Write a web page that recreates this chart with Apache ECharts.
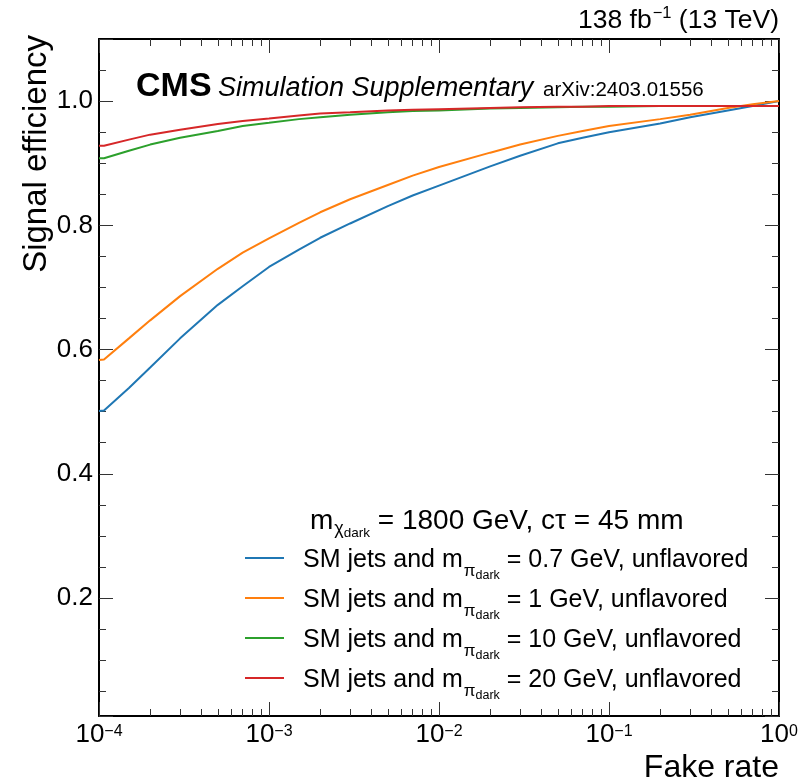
<!DOCTYPE html>
<html>
<head>
<meta charset="utf-8">
<script src="https://cdn.jsdelivr.net/npm/echarts@6/dist/echarts.min.js"></script>
<style>
  html, body { margin: 0; padding: 0; background: #fff; }
  #roc { width: 800px; height: 782px; }
</style>
</head>
<body>
<div id="roc"></div>
<script>
var FONT = "'Liberation Sans', Arial, sans-serif";

// fake rate (x), shared by the four curves
var fakeRate = [1e-4, 1.07e-4, 1.5e-4, 2e-4, 3e-4, 5e-4, 7e-4, 1e-3, 1.5e-3, 2e-3, 3e-3, 5e-3, 7e-3,
  1e-2, 2e-2, 3e-2, 5e-2, 7e-2, 0.1, 0.2, 0.3, 0.5, 0.7, 1];

// signal efficiency for each dark pion mass
var effPi07 = [0.501, 0.502, 0.538, 0.571, 0.618, 0.672, 0.702, 0.733, 0.761, 0.780, 0.803, 0.831, 0.848,
  0.864, 0.895, 0.912, 0.932, 0.941, 0.950, 0.964, 0.974, 0.985, 0.992, 1.000];
var effPi1 = [0.583, 0.584, 0.618, 0.647, 0.686, 0.730, 0.756, 0.779, 0.804, 0.821, 0.842, 0.865, 0.880,
  0.894, 0.917, 0.930, 0.944, 0.952, 0.960, 0.971, 0.978, 0.989, 0.995, 1.000];
var effPi10 = [0.908, 0.908, 0.920, 0.930, 0.941, 0.952, 0.960, 0.965, 0.971, 0.974, 0.978, 0.982, 0.984,
  0.985, 0.988, 0.989, 0.990, 0.991, 0.991, 0.992, 0.992, 0.992, 0.992, 0.992];
var effPi20 = [0.928, 0.928, 0.938, 0.946, 0.954, 0.963, 0.968, 0.972, 0.977, 0.980, 0.982, 0.985, 0.986,
  0.987, 0.989, 0.990, 0.991, 0.991, 0.992, 0.992, 0.992, 0.992, 0.992, 0.992];

var piMasses = ['0.7', '1', '10', '20'];
var lineColors = ['#1f77b4', '#ff7f0e', '#2ca02c', '#d62728'];
var effCurves = [effPi07, effPi1, effPi10, effPi20];

var seriesNames = piMasses.map(function (m) {
  return 'SM jets and m(pi dark) = ' + m + ' GeV, unflavored';
});

var rocChart = echarts.init(document.getElementById('roc'));

function pairs(xs, ys) {
  return xs.map(function (x, i) { return [x, ys[i]]; });
}

// rich styles for m_{pi_dark} style sub-subscripts
var legendRich = {
  f: { fontFamily: FONT, fontSize: 25, lineHeight: 28, verticalAlign: 'top', padding: [3.5, 0, 0, 14], color: '#000' },
  a: { fontFamily: FONT, fontSize: 25, lineHeight: 28, verticalAlign: 'top', padding: [3.5, 0, 0, 0], color: '#000' },
  p: { fontFamily: FONT, fontSize: 17, lineHeight: 17, verticalAlign: 'top', padding: [19, 0, 0, 1], color: '#000' },
  d: { fontFamily: FONT, fontSize: 12.5, lineHeight: 12, verticalAlign: 'top', padding: [25, 0, 0, 0], color: '#000' }
};

var xLabelRich = {
  b: { fontFamily: FONT, fontSize: 26, lineHeight: 26, verticalAlign: 'top', color: '#000' },
  e: { fontFamily: FONT, fontSize: 16, lineHeight: 16, verticalAlign: 'top', padding: [2, 0, 0, 0], color: '#000' }
};

function xAxisCfg(pos, showLabel) {
  return {
    type: 'log', logBase: 10, min: 1e-4, max: 1, position: pos, gridIndex: 0,
    axisLine: { onZero: false, lineStyle: { color: '#000', width: 2 } },
    axisTick: { inside: true, length: 14, lineStyle: { color: '#333' } },
    minorTick: { show: true, splitNumber: 9, length: 7, lineStyle: { color: '#333' } },
    splitLine: { show: false },
    axisLabel: {
      show: showLabel, margin: 6, interval: 0,
      formatter: function (v) {
        var e = Math.round(Math.log10(v));
        return '{b|10}{e|' + (e < 0 ? '\u2212' + (-e) : e) + '}';
      },
      rich: xLabelRich
    }
  };
}

function yAxisCfg(pos, showLabel) {
  return {
    type: 'value', min: 0.01, max: 1.1, splitNumber: 5, position: pos, gridIndex: 0,
    axisLine: { onZero: false, lineStyle: { color: '#000', width: 2 } },
    axisTick: { inside: true, length: 14, lineStyle: { color: '#333' } },
    minorTick: { show: true, splitNumber: 4, length: 7, lineStyle: { color: '#333' } },
    splitLine: { show: false },
    axisLabel: {
      show: showLabel, margin: 6, fontSize: 26, fontFamily: FONT, color: '#000',
      showMinLabel: false, showMaxLabel: false,
      formatter: function (v) { return v.toFixed(1); }
    }
  };
}

var option = {
  animation: false,
  backgroundColor: '#fff',
  textStyle: { fontFamily: FONT },
  grid: { left: 99, right: 21, top: 39, bottom: 66, outerBoundsMode: 'none' },
  xAxis: [xAxisCfg('bottom', true), xAxisCfg('top', false)],
  yAxis: [yAxisCfg('left', true), yAxisCfg('right', false)],
  legend: {
    orient: 'vertical', left: 245, top: 544, padding: 0, itemGap: 2,
    itemWidth: 39, itemHeight: 2, icon: 'rect', selectedMode: false,
    data: seriesNames,
    formatter: function (name) {
      var m = piMasses[seriesNames.indexOf(name)];
      return '{f|SM jets and m}{p|\u03c0}{d|dark}{a| = ' + m + ' GeV, unflavored}';
    },
    textStyle: { color: '#000', fontFamily: FONT, rich: legendRich }
  },
  series: effCurves.map(function (ys, i) {
    return {
      name: seriesNames[i],
      type: 'line',
      xAxisIndex: 0, yAxisIndex: 0,
      showSymbol: false, symbol: 'none',
      data: pairs(fakeRate, ys),
      lineStyle: { color: lineColors[i], width: 2 },
      itemStyle: { color: lineColors[i] },
      z: 2 + i
    };
  }),
  graphic: [
    {
      type: 'text', x: 779, y: 3,
      style: {
        text: '{a|138 fb}{s|\u22121}{a| (13 TeV)}', align: 'right', verticalAlign: 'top',
        rich: {
          a: { fontFamily: FONT, fontSize: 26.5, lineHeight: 28, verticalAlign: 'top', padding: [4, 0, 0, 0], color: '#000' },
          s: { fontFamily: FONT, fontSize: 16.5, lineHeight: 16, verticalAlign: 'top', padding: [2, 0, 0, 1], color: '#000' }
        }
      }
    },
    {
      type: 'text', x: 136, y: 86.5,
      style: { text: 'CMS', fontFamily: FONT, fontSize: 34, fontWeight: 'bold', verticalAlign: 'middle', fill: '#000' }
    },
    {
      type: 'text', x: 218, y: 88,
      style: { text: 'Simulation Supplementary', fontFamily: FONT, fontSize: 27, fontStyle: 'italic', verticalAlign: 'middle', fill: '#000' }
    },
    {
      type: 'text', x: 543, y: 90,
      style: { text: 'arXiv:2403.01556', fontFamily: FONT, fontSize: 20.5, verticalAlign: 'middle', fill: '#000' }
    },
    {
      type: 'text', x: 37, y: 35, rotation: Math.PI / 2,
      style: { text: 'Signal efficiency', fontFamily: FONT, fontSize: 33, align: 'right', verticalAlign: 'middle', fill: '#000' }
    },
    {
      type: 'text', x: 779, y: 768,
      style: { text: 'Fake rate', fontFamily: FONT, fontSize: 32, align: 'right', verticalAlign: 'middle', fill: '#000' }
    },
    {
      // legend header
      type: 'text', x: 310, y: 507,
      style: {
        text: '{h|m}{c|\u03c7}{k|dark}{h| = 1800 GeV, c\u03c4 = 45 mm}', align: 'left', verticalAlign: 'top',
        rich: {
          h: { fontFamily: FONT, fontSize: 28, lineHeight: 30, verticalAlign: 'top', color: '#000' },
          c: { fontFamily: FONT, fontSize: 18, lineHeight: 18, verticalAlign: 'top', padding: [13.5, 0, 0, 1], color: '#000' },
          k: { fontFamily: FONT, fontSize: 13.5, lineHeight: 13, verticalAlign: 'top', padding: [19.5, 0, 0, 0], color: '#000' }
        }
      }
    }
  ]
};

rocChart.setOption(option);
</script>
</body>
</html>
